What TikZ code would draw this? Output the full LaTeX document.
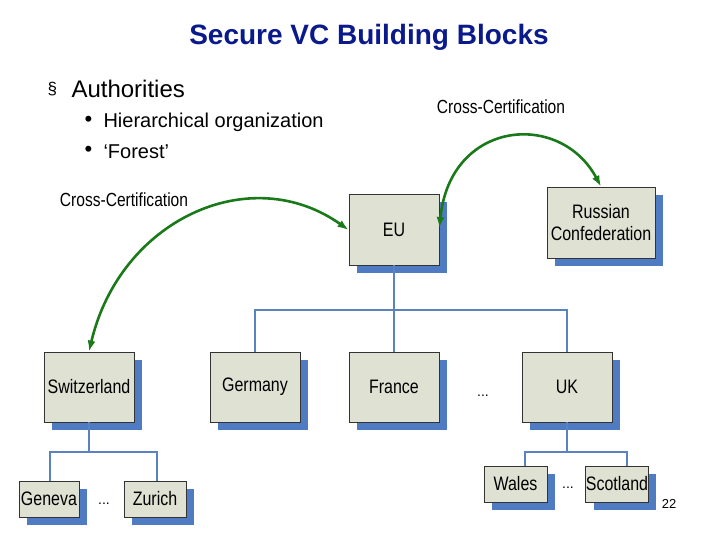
\documentclass[tikz,border=0pt]{standalone}
\usepackage{fontspec}
\setmainfont{Liberation Sans}
\newfontfamily\narrowf{Liberation Sans}[FakeStretch=0.82]
\usetikzlibrary{arrows.meta}
\begin{document}
\begin{tikzpicture}[x=1pt,y=-1pt,
  box/.style={draw=black!80,fill=boxfill,line width=0.8pt,inner sep=0pt,font=\narrowf\fontsize{19.5}{22}\selectfont,align=center},
  tree/.style={draw=treeblue,line width=1.5pt},
  cc/.style={draw=ccgreen,line width=2.6pt,{Latex[length=11pt,width=8pt]}-{Latex[length=11pt,width=8pt]}},
  lbl/.style={font=\narrowf\fontsize{19}{21}\selectfont,inner sep=0pt},
  dots/.style={font=\fontsize{14}{16}\selectfont}]
\definecolor{boxfill}{HTML}{DFE1D3}
\definecolor{shad}{HTML}{4F7BC2}
\definecolor{treeblue}{HTML}{5B82C0}
\definecolor{ccgreen}{HTML}{1A7A1A}
\definecolor{ttl}{HTML}{0A1A8C}
\useasboundingbox (0,0) rectangle (720,540);
\newcommand{\bx}[6]{% name, x1,y1,x2,y2,text
  \fill[shad] (#2+8,#3+8) rectangle (#4+8,#5+8);
  \node[box,minimum width=#4-#2,minimum height=#5-#3] (#1) at ({(#2+#4)/2},{(#3+#5)/2}) {#6};}
\node[font=\bfseries\fontsize{28}{30}\selectfont,text=ttl] (title) at (369,37) {Secure VC Building Blocks};
\node[anchor=west,font=\fontsize{17}{19}\selectfont] (b0) at (44,89) {§};
\node[anchor=west,font=\fontsize{24}{26}\selectfont] (b1) at (68,89) {Authorities};
\node[anchor=west,font=\fontsize{22}{24}\selectfont] (d1) at (81,121) {•};
\node[anchor=west,font=\fontsize{20}{22}\selectfont] (t1) at (100,122) {Hierarchical organization};
\node[anchor=west,font=\fontsize{22}{24}\selectfont] (d2) at (81,151) {•};
\node[anchor=west,font=\fontsize{20}{22}\selectfont] (t2) at (100,152) {‘Forest’};
\bx{eu}{349}{194}{439}{265}{EU}
\bx{ru}{547}{187}{655}{258}{Russian\\Confederation}
\bx{ch}{44}{352}{134}{422}{Switzerland}
\bx{de}{210}{352}{300}{422}{Germany}
\bx{fr}{349}{352}{439}{422}{France}
\bx{uk}{522}{352}{612}{422}{UK}
\bx{ge}{19}{481}{79}{517}{Geneva}
\bx{zu}{124}{481}{186}{517}{Zurich}
\bx{wa}{484}{466}{547}{502}{Wales}
\bx{sc}{586}{466}{648}{502}{Scotland}
\coordinate (j1) at (394,310);
\draw[tree] (eu.south) -- (j1);
\draw[tree] (de.north) |- (j1) -| (uk.north);
\draw[tree] (fr.north) -- (j1);
\coordinate (j2) at (89,452);
\draw[tree] (ch.south) -- (j2);
\draw[tree] (ge.north-|50,0) |- (j2) -| (zu.north-|157,0);
\coordinate (j3) at (567,452);
\draw[tree] (uk.south) -- (j3);
\draw[tree] (wa.north-|525,0) |- (j3) -| (sc.north-|627,0);
\node[lbl] (l1) at (124,200) {Cross-Certification};
\node[lbl] (l2) at (501,107) {Cross-Certification};
\draw[cc] (ch.north) .. controls (120,220) and (250,160) .. (eu.west|-0,230);
\draw[cc] (eu.east|-0,228) .. controls (450,120) and (560,110) .. (ru.north);
\node[dots] (e1) at (104,504) {...};
\node[dots] (e2) at (483,396) {...};
\node[dots] (e3) at (568,488) {...};
\node[font=\fontsize{13}{15}\selectfont] (pg) at (669,504) {22};
\end{tikzpicture}
\end{document}
